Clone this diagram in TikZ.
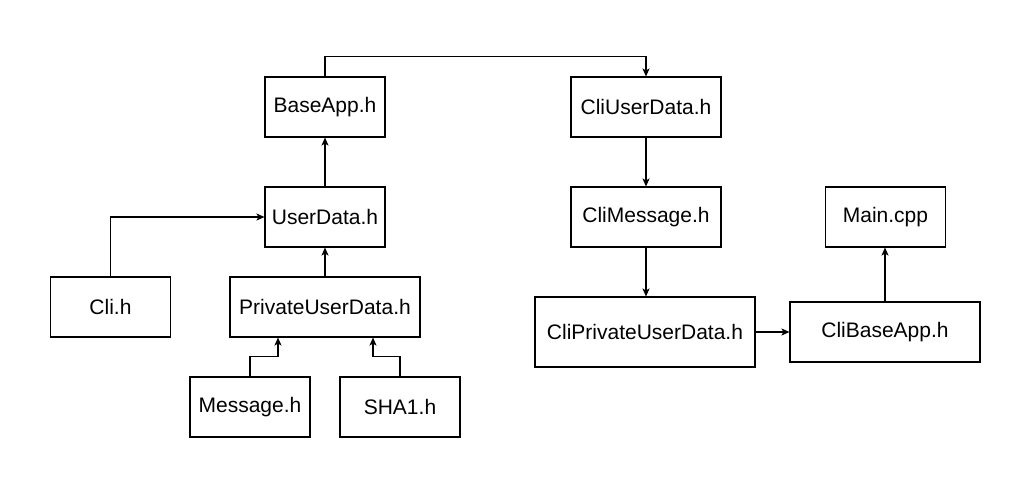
\documentclass[tikz,border=0pt]{standalone}
\usepackage{fontspec}
\setmainfont{Liberation Sans}
\usetikzlibrary{arrows.meta}
\begin{document}
\begin{tikzpicture}[x=1pt,y=-1pt,
  box/.style={draw=black,line width=1.1pt,fill=white,minimum width=120pt,minimum height=60pt,inner sep=0pt,font=\fontsize{21}{24}\selectfont},
  arr/.style={draw=black,line width=1.1pt,-{Stealth[length=8pt,width=7pt,inset=2pt]}}]
\fill[white] (0,0) rectangle (1031,488);
\useasboundingbox (0,0) rectangle (1031,488);
\node[box] (base) at (325,107) {BaseApp.h};
\node[box,minimum width=150pt] (cliud) at (646,107) {CliUserData.h};
\node[box] (ud) at (325,217) {UserData.h};
\node[box,minimum width=150pt] (clim) at (646,217) {CliMessage.h};
\node[box] (main) at (885.5,217) {Main.cpp};
\node[box] (cli) at (110.5,307) {Cli.h};
\node[box,minimum width=190pt] (pud) at (325,307) {PrivateUserData.h};
\node[box,minimum width=220pt,minimum height=70pt] (cpud) at (645,332) {CliPrivateUserData.h};
\node[box,minimum width=190pt] (cba) at (885,332) {CliBaseApp.h};
\node[box] (msg) at (250,407) {Message.h};
\node[box] (sha) at (400,407) {SHA1.h};
\draw[arr] (base.north) -- ++(0,-20) -| (cliud.north);
\draw[arr] (cliud.south) -- (clim.north);
\draw[arr] (clim.south) -- (clim.south |- cpud.north);
\draw[arr] (cpud.east) -- (cba.west);
\draw[arr] (cba.north) -- (cba.north |- main.south);
\draw[arr] (ud.north) -- (base.south);
\draw[arr] (pud.north) -- (ud.south);
\draw[arr] (cli.north) |- (ud.west);
\draw[arr] (msg.north) -- ++(0,-20) -| ([xshift=-47pt]pud.south);
\draw[arr] (sha.north) -- ++(0,-20) -| ([xshift=48pt]pud.south);
\end{tikzpicture}
\end{document}
